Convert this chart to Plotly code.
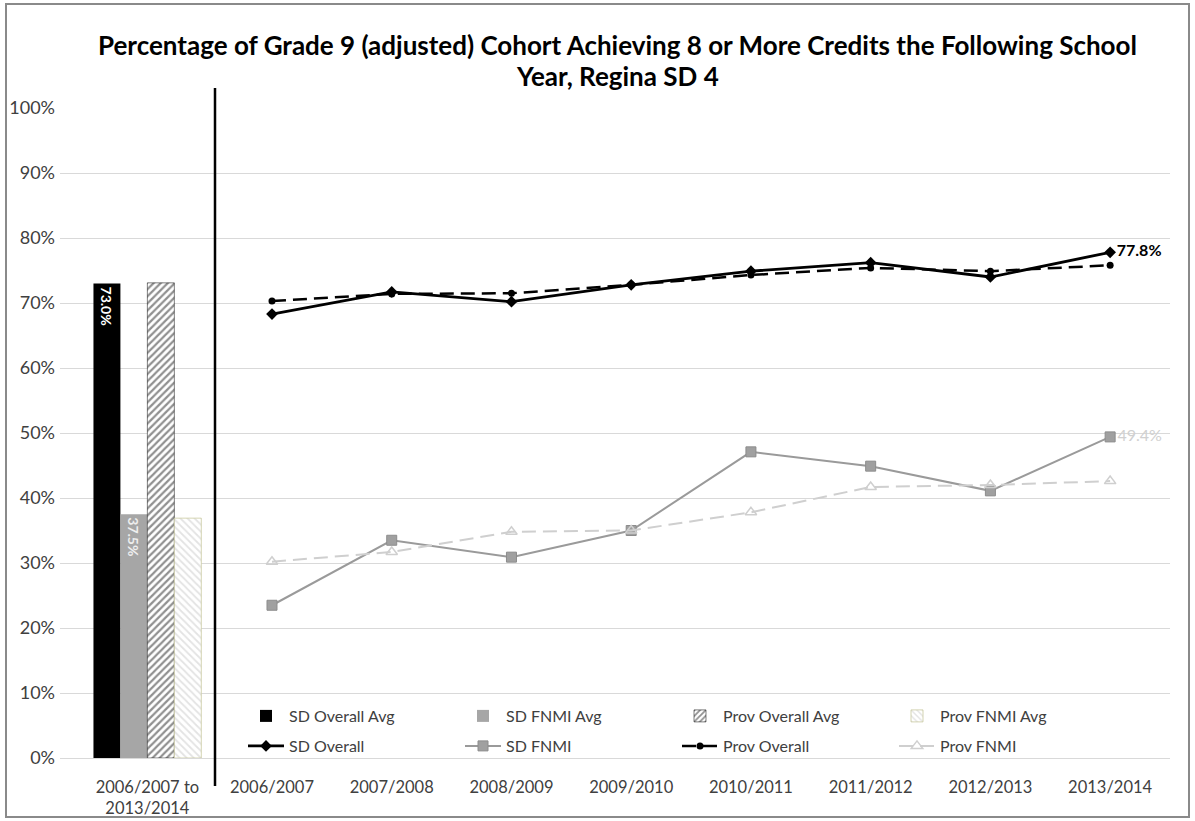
import plotly.graph_objects as go

# ---- data ----
title_lines = ["Percentage of Grade 9 (adjusted) Cohort Achieving 8 or More Credits the Following School",
               "Year, Regina SD 4"]
years = ["2006/2007", "2007/2008", "2008/2009", "2009/2010",
         "2010/2011", "2011/2012", "2012/2013", "2013/2014"]
avg_label = "2006/2007 to<br>2013/2014"

sd_overall = [0.683, 0.717, 0.702, 0.728, 0.749, 0.762, 0.740, 0.778]
sd_fnmi = [0.235, 0.335, 0.309, 0.350, 0.471, 0.449, 0.411, 0.494]
prov_overall = [0.703, 0.714, 0.715, 0.728, 0.743, 0.754, 0.749, 0.758]
prov_fnmi = [0.302, 0.317, 0.348, 0.350, 0.378, 0.417, 0.420, 0.426]

avg_names = ["SD Overall Avg", "SD FNMI Avg", "Prov Overall Avg", "Prov FNMI Avg"]
avg_values = [0.730, 0.375, 0.731, 0.369]

y_ticks = [0, 0.1, 0.2, 0.3, 0.4, 0.5, 0.6, 0.7, 0.8, 0.9, 1.0]

FONT = "Lato"
TXT = "#404040"

fig = go.Figure()

# ---- left panel: period averages as grouped bars (legend row 1) ----
bar_styles = [
    dict(color="#000000", line=dict(color="#000000", width=0)),
    dict(color="#a6a6a6", line=dict(color="#a6a6a6", width=0)),
    dict(color="#ffffff", line=dict(color="#000000", width=0.5),
         pattern=dict(shape="/", fgcolor="#222222", bgcolor="#ffffff", size=5, solidity=0.45)),
    dict(color="#ffffff", line=dict(color="#c9c9a0", width=0.8),
         pattern=dict(shape="\\", fgcolor="#c8c8c8", bgcolor="#ffffff", size=5, solidity=0.35)),
]
bar_text = [f"{avg_values[0]*100:.1f}%", f"{avg_values[1]*100:.1f}%", "", ""]
bar_text_color = ["#ffffff", "#eeeeee", "#000000", "#000000"]
for i, name in enumerate(avg_names):
    fig.add_trace(go.Bar(
        x=[0], y=[avg_values[i]], name=name,
        marker=bar_styles[i],
        text=[bar_text[i]], textposition="inside", textangle=90,
        insidetextanchor="end",
        textfont=dict(family=FONT, size=14, color=bar_text_color[i], weight="bold"),
        xaxis="x", yaxis="y", legend="legend",
    ))

# ---- right panel: yearly lines (legend row 2) ----
xs = list(range(len(years)))
fig.add_trace(go.Scatter(
    x=xs, y=sd_overall, name="SD Overall", mode="lines+markers+text",
    line=dict(color="#000000", width=2.8),
    marker=dict(symbol="diamond", size=9, color="#000000"),
    text=[""] * 7 + [f"{sd_overall[-1]*100:.1f}%"], textposition="middle right",
    textfont=dict(family=FONT, size=16, color="#000000", weight="bold"),
    xaxis="x2", yaxis="y", legend="legend2",
))
fig.add_trace(go.Scatter(
    x=xs, y=sd_fnmi, name="SD FNMI", mode="lines+markers+text",
    line=dict(color="#9a9a9a", width=2),
    marker=dict(symbol="square", size=10, color="#a0a0a0",
                line=dict(color="#8c8c8c", width=1)),
    text=[""] * 7 + [f"{sd_fnmi[-1]*100:.1f}%"], textposition="middle right",
    textfont=dict(family=FONT, size=16, color="#d0d0d0"),
    xaxis="x2", yaxis="y", legend="legend2",
))
fig.add_trace(go.Scatter(
    x=xs, y=prov_overall, name="Prov Overall", mode="lines+markers",
    line=dict(color="#000000", width=2.5, dash="14px,7px"),
    marker=dict(symbol="circle", size=7, color="#000000"),
    xaxis="x2", yaxis="y", legend="legend2",
))
fig.add_trace(go.Scatter(
    x=xs, y=prov_fnmi, name="Prov FNMI", mode="lines+markers",
    line=dict(color="#cfcfcf", width=2, dash="14px,7px"),
    marker=dict(symbol="triangle-up-open", size=10, color="#cfcfcf",
                line=dict(color="#cfcfcf", width=1.5)),
    xaxis="x2", yaxis="y", legend="legend2",
))

# ---- layout ----
L, R, T, B = 60, 25, 108, 63
W, H = 1195, 821
pw = W - L - R
ph = H - T - B
split_px = 215
split = (split_px - L) / pw


def px_x(p):
    return (p - L) / pw


def px_y(p):
    return (H - B - p) / ph


legend_common = dict(
    orientation="h", x=px_x(243), xanchor="left", yanchor="top",
    bgcolor="rgba(0,0,0,0)", font=dict(family=FONT, size=16, color=TXT),
    entrywidth=166, entrywidthmode="pixels", traceorder="normal",
    itemwidth=36, tracegroupgap=0,
)

fig.update_layout(
    width=W, height=H,
    margin=dict(l=L, r=R, t=T, b=B, autoexpand=False),
    paper_bgcolor="#ffffff", plot_bgcolor="#ffffff",
    font=dict(family=FONT, size=16, color=TXT),
    barmode="group", bargap=0.17, bargroupgap=0,
    showlegend=True,
    legend=dict(legend_common, y=px_y(699)),
    legend2=dict(legend_common, y=px_y(729)),
    xaxis=dict(
        domain=[0, split], range=[-0.6725, 0.5205], automargin=False,
        tickvals=[0], ticktext=[avg_label], showgrid=False, zeroline=False,
        showline=False, ticks="", ticklabelstandoff=17,
        tickfont=dict(family=FONT, size=16.5, color=TXT),
    ),
    xaxis2=dict(
        domain=[split, 1], range=[-0.476, 7.50], anchor="y", automargin=False,
        tickvals=xs, ticktext=years, showgrid=False, zeroline=False,
        showline=False, ticks="", ticklabelstandoff=17,
        tickfont=dict(family=FONT, size=16.5, color=TXT),
    ),
    yaxis=dict(
        range=[0, 1], tickvals=y_ticks, tickformat=".0%", automargin=False,
        showgrid=True, gridcolor="#d9d9d9", gridwidth=1,
        zeroline=True, zerolinecolor="#d9d9d9", zerolinewidth=1,
        showline=False, ticks="", ticklabelstandoff=4,
        tickfont=dict(family=FONT, size=18, color=TXT),
    ),
    shapes=[
        # panel separator
        dict(type="line", xref="paper", yref="paper",
             x0=split, x1=split, y0=px_y(786), y1=px_y(88),
             line=dict(color="#000000", width=2.5)),
        # chart frame
        dict(type="rect", xref="paper", yref="paper",
             x0=px_x(6), x1=px_x(1189), y0=px_y(817), y1=px_y(4),
             line=dict(color="#8a8a8a", width=2), fillcolor="rgba(0,0,0,0)"),
    ],
)

# two-line chart title
for line_text, cy in zip(title_lines, [45, 76]):
    fig.add_annotation(
        text=f"<b>{line_text}</b>", xref="paper", yref="paper",
        x=px_x(617), y=px_y(cy), xanchor="center", yanchor="middle",
        showarrow=False, font=dict(family=FONT, size=26, color="#000000"),
    )

fig.write_html("out.html")
